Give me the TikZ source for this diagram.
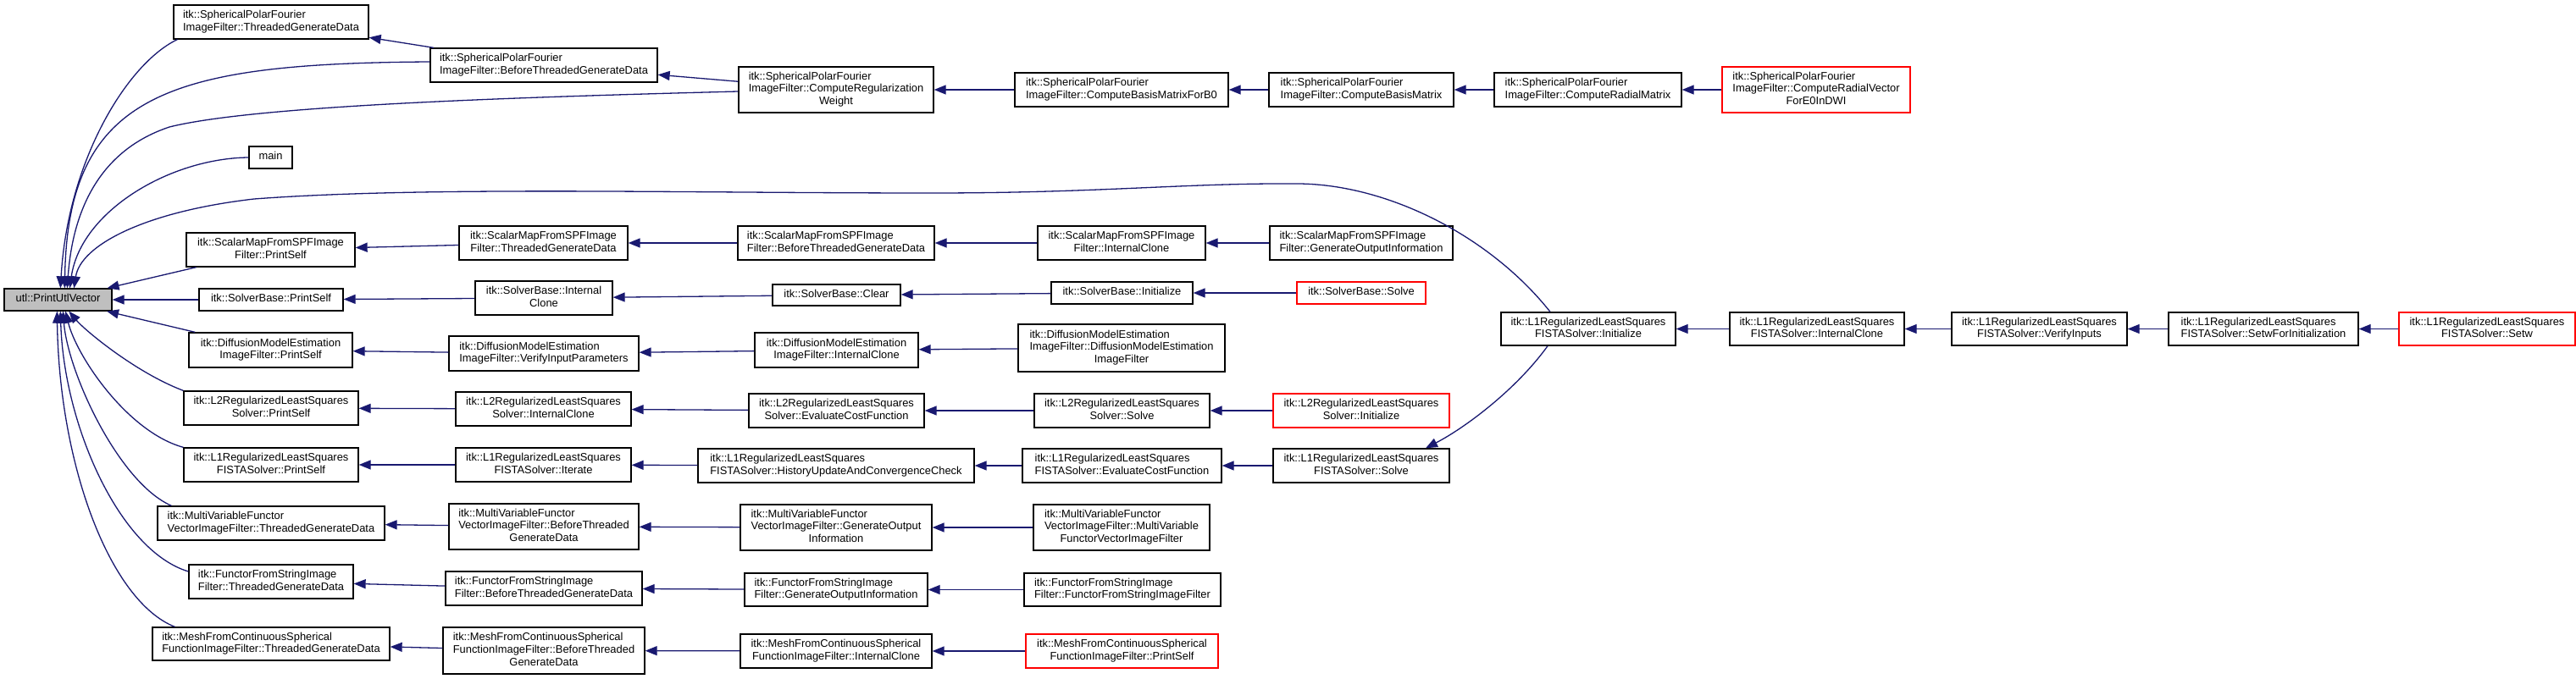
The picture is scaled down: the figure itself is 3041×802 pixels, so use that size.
\documentclass[tikz,border=0pt]{standalone}
\usepackage{fontspec}
\setmainfont{Liberation Sans}
\usetikzlibrary{arrows.meta,calc}
\definecolor{edgeblue}{HTML}{191970}
\definecolor{rootgray}{HTML}{BFBFBF}
\newcommand{\two}[2]{\begin{tabular}{@{}l@{}}#1\\\multicolumn{1}{@{}c@{}}{#2}\end{tabular}}
\newcommand{\three}[3]{\begin{tabular}{@{}l@{}}#1\\#2\\\multicolumn{1}{@{}c@{}}{#3}\end{tabular}}
\newcommand{\one}[1]{\begin{tabular}{@{}c@{}}#1\end{tabular}}
\newcommand{\N}[7][]{\node[box,#1,minimum width=#5pt,minimum height=#6pt] (#2) at (#3,-#4) {#7};}
\tikzset{
  box/.style={draw=black,line width=1.3pt,fill=white,inner sep=0pt,
    font=\fontsize{12.9}{14.8}\selectfont,text=black},
  redbox/.style={draw=red},
  rootbox/.style={fill=rootgray},
  edge/.style={draw=edgeblue,line width=1.3pt,-{Triangle[length=14pt,width=11pt]}},
}
\begin{document}
\begin{tikzpicture}[x=1pt,y=1pt]
\useasboundingbox (0,0) rectangle (3041,-802);
% column 0
\N[rootbox]{puv}{68.5}{354}{127}{26}{\one{utl::PrintUtlVector}}
% column 1
\N{spfTGD}{320}{26}{230}{40}{\two{itk::SphericalPolarFourier}{ImageFilter::ThreadedGenerateData}}
\N{main}{319.5}{186}{51}{26}{\one{main}}
\N{smPS}{319.5}{295}{199}{40}{\two{itk::ScalarMapFromSPFImage}{Filter::PrintSelf}}
\N{sbPS}{320}{354}{170}{26}{\one{itk::SolverBase::PrintSelf}}
\N{dmPS}{319.5}{413.5}{193}{41}{\two{itk::DiffusionModelEstimation}{ImageFilter::PrintSelf}}
\N{l2PS}{320}{482}{206}{40}{\two{itk::L2RegularizedLeastSquares}{Solver::PrintSelf}}
\N{l1PS}{320}{549}{206}{40}{\two{itk::L1RegularizedLeastSquares}{FISTASolver::PrintSelf}}
\N{mvTGD}{320}{618}{268}{40}{\two{itk::MultiVariableFunctor}{VectorImageFilter::ThreadedGenerateData}}
\N{ffTGD}{320}{687}{194}{40}{\two{itk::FunctorFromStringImage}{Filter::ThreadedGenerateData}}
\N{meTGD}{320}{760.5}{280}{39}{\two{itk::MeshFromContinuousSpherical}{FunctionImageFilter::ThreadedGenerateData}}
% column 2
\N{spfBTGD}{642}{77}{268}{40}{\two{itk::SphericalPolarFourier}{ImageFilter::BeforeThreadedGenerateData}}
\N{smTGD}{641.5}{287}{199}{40}{\two{itk::ScalarMapFromSPFImage}{Filter::ThreadedGenerateData}}
\N{sbIC}{642}{352}{162}{40}{\two{itk::SolverBase::Internal}{Clone}}
\N{dmVIP}{642}{417.5}{224}{41}{\two{itk::DiffusionModelEstimation}{ImageFilter::VerifyInputParameters}}
\N{l2IC}{641.5}{483}{207}{40}{\two{itk::L2RegularizedLeastSquares}{Solver::InternalClone}}
\N{l1It}{641.5}{549}{207}{40}{\two{itk::L1RegularizedLeastSquares}{FISTASolver::Iterate}}
\N{mvBTGD}{642}{622}{224}{54}{\three{itk::MultiVariableFunctor}{VectorImageFilter::BeforeThreaded}{GenerateData}}
\N{ffBTGD}{642}{695}{232}{40}{\two{itk::FunctorFromStringImage}{Filter::BeforeThreadedGenerateData}}
\N{meBTGD}{642}{768.5}{238}{55}{\three{itk::MeshFromContinuousSpherical}{FunctionImageFilter::BeforeThreaded}{GenerateData}}
% column 3
\N{spfCRW}{987}{106}{230}{54}{\three{itk::SphericalPolarFourier}{ImageFilter::ComputeRegularization}{Weight}}
\N{smBTGD}{987}{287}{232}{40}{\two{itk::ScalarMapFromSPFImage}{Filter::BeforeThreadedGenerateData}}
\N{sbClear}{987.5}{348.5}{151}{25}{\one{itk::SolverBase::Clear}}
\N{dmIC}{987.5}{413.5}{193}{41}{\two{itk::DiffusionModelEstimation}{ImageFilter::InternalClone}}
\N{l2ECF}{987.5}{485}{207}{40}{\two{itk::L2RegularizedLeastSquares}{Solver::EvaluateCostFunction}}
\N{l1Hist}{987}{550}{326}{40}{\two{itk::L1RegularizedLeastSquares}{FISTASolver::HistoryUpdateAndConvergenceCheck}}
\N{mvGOI}{987}{623}{226}{54}{\three{itk::MultiVariableFunctor}{VectorImageFilter::GenerateOutput}{Information}}
\N{ffGOI}{987}{696.5}{216}{39}{\two{itk::FunctorFromStringImage}{Filter::GenerateOutputInformation}}
\N{meIC}{987}{769}{226}{40}{\two{itk::MeshFromContinuousSpherical}{FunctionImageFilter::InternalClone}}
% column 4
\N{spfB0}{1324}{106}{252}{40}{\two{itk::SphericalPolarFourier}{ImageFilter::ComputeBasisMatrixForB0}}
\N{smIC}{1324}{287}{198}{40}{\two{itk::ScalarMapFromSPFImage}{Filter::InternalClone}}
\N{sbInit}{1324.5}{346}{167}{26}{\one{itk::SolverBase::Initialize}}
\N{dmCtor}{1324}{411}{244}{56}{\three{itk::DiffusionModelEstimation}{ImageFilter::DiffusionModelEstimation}{ImageFilter}}
\N{l2Solve}{1324.5}{485}{207}{40}{\two{itk::L2RegularizedLeastSquares}{Solver::Solve}}
\N{l1ECF}{1324.5}{550}{235}{40}{\two{itk::L1RegularizedLeastSquares}{FISTASolver::EvaluateCostFunction}}
\N{mvCtor}{1324}{623}{208}{54}{\three{itk::MultiVariableFunctor}{VectorImageFilter::MultiVariable}{FunctorVectorImageFilter}}
\N{ffCtor}{1325}{696.5}{232}{39}{\two{itk::FunctorFromStringImage}{Filter::FunctorFromStringImageFilter}}
\N[redbox]{mePS}{1324.5}{769}{227}{40}{\two{itk::MeshFromContinuousSpherical}{FunctionImageFilter::PrintSelf}}
% column 5
\N{spfCBM}{1607}{106}{218}{40}{\two{itk::SphericalPolarFourier}{ImageFilter::ComputeBasisMatrix}}
\N{smGOI}{1607}{287}{216}{40}{\two{itk::ScalarMapFromSPFImage}{Filter::GenerateOutputInformation}}
\N[redbox]{sbSolve}{1607}{346}{152}{26}{\one{itk::SolverBase::Solve}}
\N[redbox]{l2Init}{1607}{485}{208}{40}{\two{itk::L2RegularizedLeastSquares}{Solver::Initialize}}
\N{l1Solve}{1607}{550}{208}{40}{\two{itk::L1RegularizedLeastSquares}{FISTASolver::Solve}}
% column 6+
\N{spfCRM}{1874.5}{106}{221}{40}{\two{itk::SphericalPolarFourier}{ImageFilter::ComputeRadialMatrix}}
\N[redbox]{spfE0}{2144}{106}{222}{54}{\three{itk::SphericalPolarFourier}{ImageFilter::ComputeRadialVector}{ForE0InDWI}}
\N{l1Init}{1875}{388.5}{206}{39}{\two{itk::L1RegularizedLeastSquares}{FISTASolver::Initialize}}
\N{l1IC}{2145}{388.5}{206}{39}{\two{itk::L1RegularizedLeastSquares}{FISTASolver::InternalClone}}
\N{l1VI}{2407.5}{388.5}{207}{39}{\two{itk::L1RegularizedLeastSquares}{FISTASolver::VerifyInputs}}
\N{l1SFI}{2672}{388.5}{224}{39}{\two{itk::L1RegularizedLeastSquares}{FISTASolver::SetwForInitialization}}
\N[redbox]{l1Setw}{2936}{388.5}{208}{39}{\two{itk::L1RegularizedLeastSquares}{FISTASolver::Setw}}

% ---- curved edges into utl::PrintUtlVector
\draw[edge] ($(spfTGD.south west)+(5,0)$) .. controls (150,-75) and (80,-190) .. ($(puv.north west)+(67,0)$);
\draw[edge] ($(spfBTGD.west)+(0,4)$) .. controls (200,-75) and (80,-110) .. ($(puv.north west)+(72,0)$);
\draw[edge] ($(spfCRW.west)+(0,-2)$) .. controls (600,-115) and (300,-125) .. (200,-150)
   .. controls (110,-180) and (85,-260) .. ($(puv.north west)+(75,0)$);
\draw[edge] (main.west) .. controls (200,-187) and (95,-250) .. ($(puv.north west)+(78,0)$);
\draw[edge] ($(l1Init.north)+(-45,0)$) .. controls (1760,-280) and (1640,-218) .. (1533,-217)
   .. controls (1400,-216) and (1300,-228) .. (1100,-228)
   .. controls (800,-228) and (500,-220) .. (300,-235)
   .. controls (170,-250) and (95,-290) .. ($(puv.north west)+(83,0)$);
\draw[edge] (smPS) -- (puv);
\draw[edge] (sbPS) -- (puv);
\draw[edge] (dmPS) -- (puv);
\draw[edge] (l2PS.north west) .. controls (160,-440) and (100,-390) .. ($(puv.south west)+(77,0)$);
\draw[edge] (l1PS.north west) .. controls (150,-510) and (90,-420) .. ($(puv.south west)+(73,0)$);
\draw[edge] ($(mvTGD.north west)+(17,0)$) .. controls (140,-570) and (80,-440) .. ($(puv.south west)+(70,0)$);
\draw[edge] ($(ffTGD.west)+(0,12)$) .. controls (140,-650) and (75,-500) .. ($(puv.south west)+(67,0)$);
\draw[edge] ($(meTGD.north west)+(27,0)$) .. controls (130,-710) and (70,-550) .. ($(puv.south west)+(63,0)$);

% ---- chains
\draw[edge] (spfBTGD) -- (spfTGD);
\draw[edge] (spfCRW) -- (spfBTGD);
\draw[edge] (spfB0) -- (spfCRW);
\draw[edge] (spfCBM) -- (spfB0);
\draw[edge] (spfCRM) -- (spfCBM);
\draw[edge] (spfE0) -- (spfCRM);

\draw[edge] (smTGD) -- (smPS);
\draw[edge] (smBTGD) -- (smTGD);
\draw[edge] (smIC) -- (smBTGD);
\draw[edge] (smGOI) -- (smIC);

\draw[edge] (sbIC) -- (sbPS);
\draw[edge] (sbClear) -- (sbIC);
\draw[edge] (sbInit) -- (sbClear);
\draw[edge] (sbSolve) -- (sbInit);

\draw[edge] (dmVIP) -- (dmPS);
\draw[edge] (dmIC) -- (dmVIP);
\draw[edge] (dmCtor) -- (dmIC);

\draw[edge] (l2IC) -- (l2PS);
\draw[edge] (l2ECF) -- (l2IC);
\draw[edge] (l2Solve) -- (l2ECF);
\draw[edge] (l2Init) -- (l2Solve);

\draw[edge] (l1It) -- (l1PS);
\draw[edge] (l1Hist) -- (l1It);
\draw[edge] (l1ECF) -- (l1Hist);
\draw[edge] (l1Solve) -- (l1ECF);
\draw[edge] ($(l1Init.south)+(-48,0)$) .. controls (1790,-460) and (1730,-505) .. ($(l1Solve.north)+(76,0)$);
\draw[edge] (l1IC) -- (l1Init);
\draw[edge] (l1VI) -- (l1IC);
\draw[edge] (l1SFI) -- (l1VI);
\draw[edge] (l1Setw) -- (l1SFI);

\draw[edge] (mvBTGD) -- (mvTGD);
\draw[edge] (mvGOI) -- (mvBTGD);
\draw[edge] (mvCtor) -- (mvGOI);

\draw[edge] (ffBTGD) -- (ffTGD);
\draw[edge] (ffGOI) -- (ffBTGD);
\draw[edge] (ffCtor) -- (ffGOI);

\draw[edge] (meBTGD) -- (meTGD);
\draw[edge] (meIC) -- (meBTGD);
\draw[edge] (mePS) -- (meIC);
\end{tikzpicture}
\end{document}
